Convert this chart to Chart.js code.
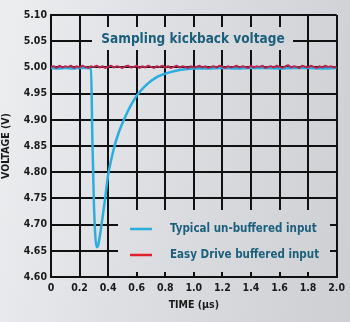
<!DOCTYPE html>
<html>
<head>
<meta charset="utf-8">
<script src="https://cdn.jsdelivr.net/npm/chart.js@4.4.1/dist/chart.umd.min.js"></script>
<style>
  html, body { margin: 0; padding: 0; }
  body {
    width: 350px; height: 322px; overflow: hidden;
    background: linear-gradient(100deg, #eceef0 0%, #dcdee2 45%, #cdcfd3 100%);
  }
  #wrap { position: relative; width: 350px; height: 322px; }
</style>
</head>
<body>
<div id="wrap"><canvas id="kickChart" width="350" height="322"></canvas></div>
<script>
// chart data
const chartTitle = 'Sampling kickback voltage';
const xTicks = [0, 0.2, 0.4, 0.6, 0.8, 1.0, 1.2, 1.4, 1.6, 1.8, 2.0];
const yTicks = [4.60, 4.65, 4.70, 4.75, 4.80, 4.85, 4.90, 4.95, 5.00, 5.05, 5.10];

// Typical un-buffered input
const blueTime = [0, 0.05, 0.10, 0.15, 0.20, 0.25, 0.28, 0.29, 0.30, 0.31, 0.32, 0.33, 0.34, 0.35, 0.36,
  0.38, 0.40, 0.42, 0.45, 0.48, 0.52, 0.56, 0.60, 0.65, 0.70, 0.75, 0.80, 0.85, 0.90, 0.95, 1.00,
  1.10, 1.20, 1.30, 1.40, 1.50, 1.60, 1.70, 1.80, 1.90, 2.00];
const blueVolt = [4.999, 4.998, 4.999, 4.998, 4.999, 4.999, 4.998, 4.86, 4.745, 4.68, 4.657, 4.66, 4.675, 4.693, 4.712,
  4.752, 4.795, 4.822, 4.855, 4.880, 4.906, 4.928, 4.946, 4.962, 4.974, 4.983, 4.988, 4.992, 4.995, 4.997, 4.998,
  4.998, 4.999, 4.998, 4.999, 4.999, 4.998, 4.999, 4.999, 4.998, 4.999];

// Easy Drive buffered input (sampled every 0.02 us)
const redTime = [0, 0.02, 0.04, 0.06, 0.08, 0.10, 0.12, 0.14, 0.16, 0.18, 0.20, 0.22, 0.24, 0.26, 0.28, 0.30,
  0.32, 0.34, 0.36, 0.38, 0.40, 0.42, 0.44, 0.46, 0.48, 0.50, 0.52, 0.54, 0.56, 0.58, 0.60, 0.62, 0.64,
  0.66, 0.68, 0.70, 0.72, 0.74, 0.76, 0.78, 0.80, 0.82, 0.84, 0.86, 0.88, 0.90, 0.92, 0.94, 0.96, 0.98,
  1.00, 1.02, 1.04, 1.06, 1.08, 1.10, 1.12, 1.14, 1.16, 1.18, 1.20, 1.22, 1.24, 1.26, 1.28, 1.30, 1.32,
  1.34, 1.36, 1.38, 1.40, 1.42, 1.44, 1.46, 1.48, 1.50, 1.52, 1.54, 1.56, 1.58, 1.60, 1.62, 1.64, 1.66,
  1.68, 1.70, 1.72, 1.74, 1.76, 1.78, 1.80, 1.82, 1.84, 1.86, 1.88, 1.90, 1.92, 1.94, 1.96, 1.98, 2.00];
const redVolt = [5.001, 5.002, 4.999, 5.003, 5.000, 5.002, 5.001, 5.003, 4.999, 5.002, 5.000, 5.003, 5.001, 4.999, 5.002, 5.001,
  5.003, 5.000, 5.002, 4.999, 5.001, 5.003, 5.000, 5.002, 5.001, 4.999, 5.002, 5.003, 5.000, 5.001, 5.003, 4.999, 5.002,
  5.000, 5.003, 5.001, 4.999, 5.002, 5.001, 5.003, 5.000, 5.002, 4.999, 5.001, 5.003, 5.000, 5.002, 5.001, 4.999, 5.002,
  5.000, 5.001, 5.003, 5.000, 5.002, 4.999, 5.001, 5.002, 5.000, 5.003, 5.001, 4.999, 5.002, 5.000, 5.001, 5.003, 5.000,
  5.002, 5.001, 4.999, 5.003, 5.000, 5.002, 5.001, 5.003, 4.999, 5.001, 5.002, 5.000, 5.003, 5.001, 4.999, 5.002, 5.004,
  5.000, 5.002, 5.001, 4.999, 5.003, 5.001, 5.000, 5.003, 5.001, 4.999, 5.002, 5.000, 5.003, 5.001, 5.002, 5.000, 5.001];

const blueColor = '#2aaee0';
const redColor = '#b8264f';
const legendRed = '#e0202a';
const textTeal = '#1c5f7c';
const tickFont = "'DejaVu Sans Condensed', 'DejaVu Sans', sans-serif";

// clears the grid behind the title and legend, then draws them
const overlayPlugin = {
    id: 'overlay',
    beforeDatasetsDraw(chart) {
        const c = chart.ctx;
        c.clearRect(92, 27, 201, 23);
        c.clearRect(118, 210, 212, 62);
    },
    afterDatasetsDraw(chart) {
        const c = chart.ctx;
        c.save();
        c.fillStyle = textTeal;
        c.textBaseline = 'middle';
        c.textAlign = 'center';
        c.font = "bold 13.5px " + tickFont;
        c.fillText(chartTitle, 193, 39);

        const items = [
            { label: chart.data.datasets[0].label, color: blueColor, y: 229 },
            { label: chart.data.datasets[1].label, color: legendRed, y: 255 }
        ];
        c.textAlign = 'left';
        c.font = "bold 11.5px " + tickFont;
        items.forEach(item => {
            c.strokeStyle = item.color;
            c.lineWidth = 2.5;
            c.beginPath();
            c.moveTo(130, item.y);
            c.lineTo(152, item.y);
            c.stroke();
            c.fillStyle = textTeal;
            c.fillText(item.label, 170, item.y);
        });
        c.restore();
    }
};

const ctx = document.getElementById('kickChart').getContext('2d');
const kickChart = new Chart(ctx, {
    type: 'line',
    data: {
        datasets: [{
            label: 'Typical un-buffered input',
            data: blueTime.map((t, i) => ({ x: t, y: blueVolt[i] })),
            borderColor: blueColor,
            borderWidth: 2.5,
            pointRadius: 0,
            cubicInterpolationMode: 'monotone',
            order: 2
        }, {
            label: 'Easy Drive buffered input',
            data: redTime.map((t, i) => ({ x: t, y: redVolt[i] })),
            borderColor: redColor,
            borderWidth: 2,
            pointRadius: 0,
            tension: 0.2,
            order: 1
        }]
    },
    options: {
        responsive: false,
        animation: false,
        events: [],
        layout: { padding: { top: 15, right: 13, bottom: 10, left: 0 } },
        plugins: {
            legend: { display: false },
            tooltip: { enabled: false },
            title: { display: false }
        },
        scales: {
            x: {
                type: 'linear',
                min: 0,
                max: 2,
                afterBuildTicks: scale => { scale.ticks = xTicks.map(v => ({ value: v })); },
                afterFit: scale => { scale.height = 35; },
                grid: { color: '#111', lineWidth: 2, drawTicks: false },
                border: { color: '#111', width: 2 },
                ticks: {
                    color: '#1a1a1a',
                    padding: 5,
                    maxRotation: 0,
                    font: { family: tickFont, size: 10.5, weight: 'bold' },
                    callback: v => v === 0 ? '0' : v.toFixed(1)
                },
                title: {
                    display: true,
                    text: 'TIME (µs)',
                    color: '#1a1a1a',
                    padding: { top: 2, bottom: 0 },
                    font: { family: tickFont, size: 10.5, weight: 'bold' }
                }
            },
            y: {
                min: 4.6,
                max: 5.1,
                afterBuildTicks: scale => { scale.ticks = yTicks.map(v => ({ value: v })); },
                afterFit: scale => { scale.width = 51; },
                grid: { color: '#111', lineWidth: 2, drawTicks: false },
                border: { color: '#111', width: 2 },
                ticks: {
                    color: '#1a1a1a',
                    padding: 4,
                    font: { family: tickFont, size: 10.5, weight: 'bold' },
                    callback: v => v.toFixed(2)
                },
                title: {
                    display: true,
                    text: 'VOLTAGE (V)',
                    color: '#1a1a1a',
                    padding: { top: 0, bottom: 3 },
                    font: { family: tickFont, size: 10.5, weight: 'bold' }
                }
            }
        }
    },
    plugins: [overlayPlugin]
});
</script>
</body>
</html>
